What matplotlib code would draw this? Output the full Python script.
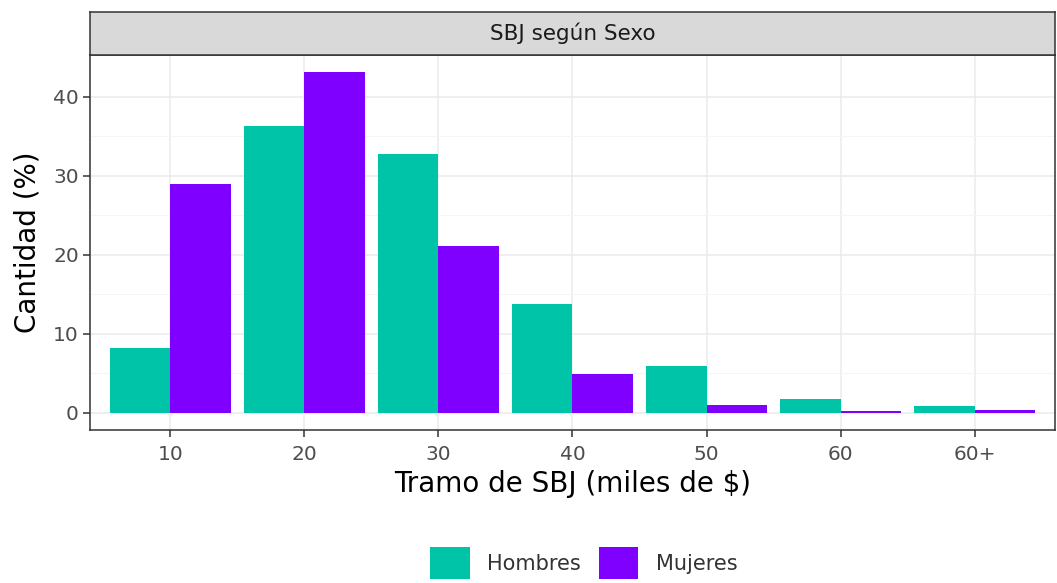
import numpy as np
import matplotlib
matplotlib.use('Agg')
from matplotlib import pyplot as plt

matplotlib.rcParams['font.family'] = 'DejaVu Sans'

tramos = ['10', '20', '30', '40', '50', '60', '60+']
hombres = [8.2, 36.3, 32.7, 13.8, 5.9, 1.8, 0.9]
mujeres = [29.0, 43.1, 21.1, 4.9, 1.0, 0.2, 0.35]
col_h = '#00C4A7'
col_m = '#8000FF'

fig = plt.figure(figsize=(10.57, 5.83), dpi=100)
ax = fig.add_axes([0.0851, 0.2624, 0.9130, 0.6433])

x = np.arange(1, len(tramos) + 1)
w = 0.45
ax.bar(x - w / 2, hombres, width=w, color=col_h, label='Hombres', zorder=3)
ax.bar(x + w / 2, mujeres, width=w, color=col_m, label='Mujeres', zorder=3)

ax.set_xlim(0.4, 7.6)
ax.set_ylim(-2.155, 45.255)
ax.set_xticks(x)
ax.set_xticklabels(tramos)
ax.set_yticks([0, 10, 20, 30, 40])
ax.set_yticks([5, 15, 25, 35], minor=True)
ax.tick_params(axis='both', which='major', labelsize=14.5, colors='#333333',
               labelcolor='#4D4D4D', length=5, width=1.1, pad=3)
ax.tick_params(axis='x', which='major', pad=6)
ax.tick_params(axis='y', which='minor', length=0)
ax.grid(which='major', color='#EBEBEB', linewidth=1.1, zorder=0)
ax.grid(which='minor', axis='y', color='#F4F4F4', linewidth=0.6, zorder=0)
for s in ax.spines.values():
    s.set_color('#333333')
    s.set_linewidth(1.1)

ax.set_xlabel('Tramo de SBJ (miles de $)', fontsize=20, color='black', labelpad=4)
ax.set_ylabel('Cantidad (%)', fontsize=20, color='black', labelpad=8)

# strip on top
strip = fig.add_axes([0.0851, 0.9057, 0.9130, 0.0738])
strip.set_xticks([])
strip.set_yticks([])
strip.set_facecolor('#D9D9D9')
for s in strip.spines.values():
    s.set_color('#333333')
    s.set_linewidth(1.1)
strip.text(0.5, 0.5, 'SBJ según Sexo', ha='center', va='center', fontsize=15.5,
           color='#1A1A1A', transform=strip.transAxes)

leg = fig.legend(loc='center', bbox_to_anchor=(0.5525, 0.0343), ncol=2,
                 frameon=False, fontsize=15, handlelength=1.9, handleheight=2.0,
                 columnspacing=0.85, handletextpad=0.85, borderpad=0)
for t in leg.get_texts():
    t.set_color('#333333')

plt.savefig('out.png', dpi=100)
